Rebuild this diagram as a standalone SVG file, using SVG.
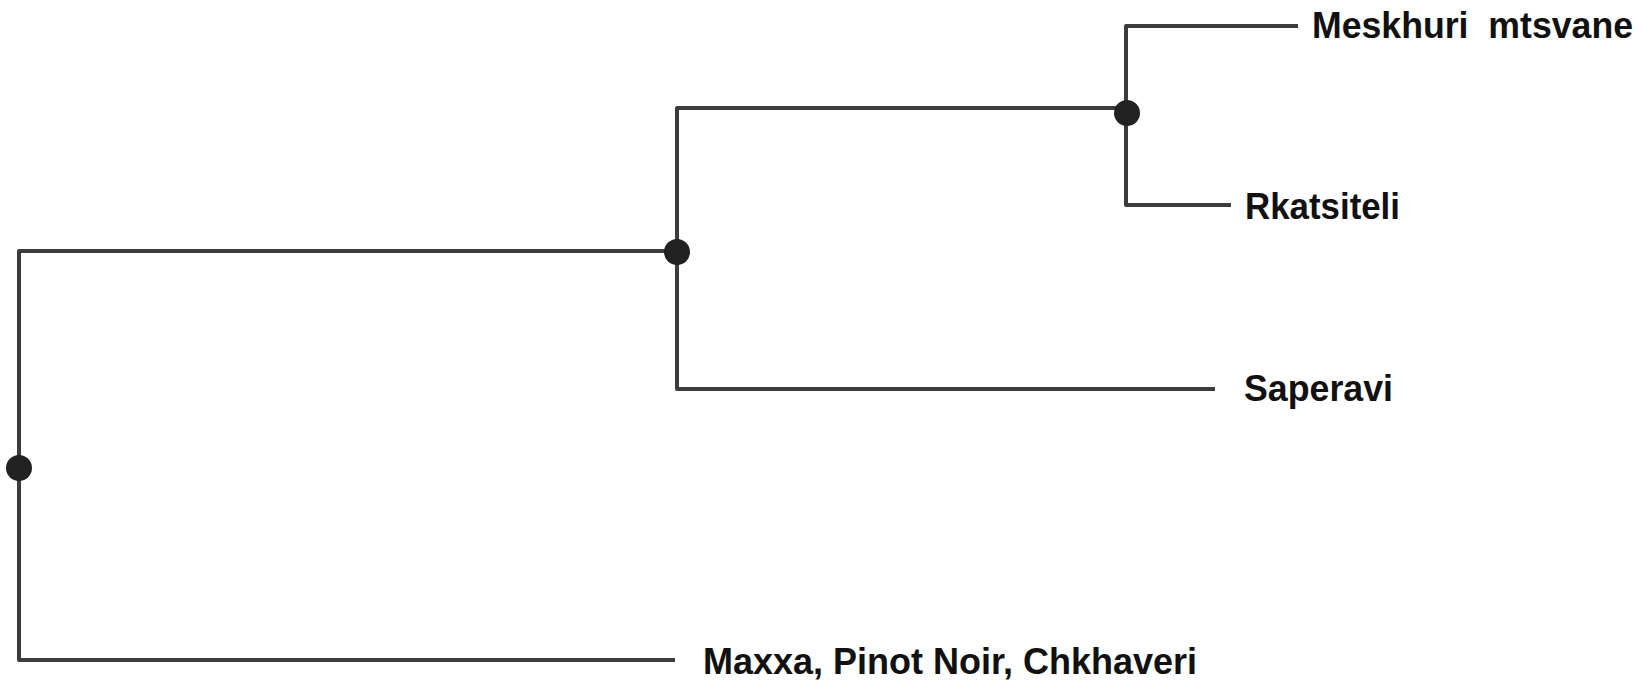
<svg xmlns="http://www.w3.org/2000/svg" width="1647" height="685" viewBox="0 0 1647 685">
<style>
.br{fill:none;stroke:#3c3c3c;stroke-width:4;stroke-linejoin:round}
.dot{fill:#222}
.lbl{font-family:"Liberation Sans",Arial,sans-serif;font-weight:bold;font-size:36px;fill:#111}
</style>
<rect width="1647" height="685" fill="#fff"/>
<g id="connectors">
<path class="br" d="M675,660 H19 V251 H677"/>
<path class="br" d="M1215,389 H677 V108 H1127"/>
<path class="br" d="M1231,205 H1126 V26 H1298"/>
</g>
<g id="node-root"><circle class="dot" cx="19" cy="468" r="13"/></g>
<g id="node-inner"><circle class="dot" cx="677" cy="252" r="13"/></g>
<g id="node-top"><circle class="dot" cx="1127" cy="113" r="13"/></g>
<g id="leaf-meskhuri"><text class="lbl" x="1312" y="38" xml:space="preserve" textLength="321" lengthAdjust="spacingAndGlyphs">Meskhuri  mtsvane</text></g>
<g id="leaf-rkatsiteli"><text class="lbl" x="1245" y="219" textLength="155" lengthAdjust="spacingAndGlyphs">Rkatsiteli</text></g>
<g id="leaf-saperavi"><text class="lbl" x="1244" y="401" textLength="149" lengthAdjust="spacingAndGlyphs">Saperavi</text></g>
<g id="leaf-maxxa"><text class="lbl" x="703" y="674" textLength="494" lengthAdjust="spacingAndGlyphs">Maxxa, Pinot Noir, Chkhaveri</text></g>
</svg>
